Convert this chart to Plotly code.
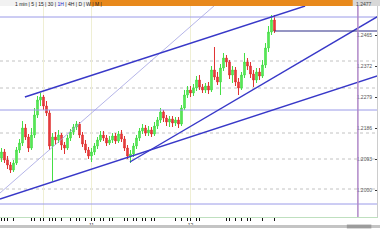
import plotly.graph_objects as go

# ---- data (bar index, prices) ----
bar_index = list(range(92))
open_ = [1.2096, 1.2114, 1.2090, 1.2075, 1.2060, 1.2081, 1.2120, 1.2141, 1.2186, 1.2159,
         1.2126, 1.2165, 1.2225, 1.2270, 1.2279, 1.2252, 1.2231, 1.2132, 1.2159, 1.2150,
         1.2165, 1.2135, 1.2126, 1.2156, 1.2174, 1.2189, 1.2198, 1.2165, 1.2138, 1.2120,
         1.2102, 1.2114, 1.2132, 1.2150, 1.2165, 1.2156, 1.2141, 1.2150, 1.2162, 1.2147,
         1.2168, 1.2153, 1.2126, 1.2102, 1.2108, 1.2132, 1.2156, 1.2177, 1.2186, 1.2171,
         1.2180, 1.2168, 1.2192, 1.2210, 1.2234, 1.2216, 1.2204, 1.2213, 1.2201, 1.2210,
         1.2198, 1.2246, 1.2285, 1.2300, 1.2291, 1.2306, 1.2330, 1.2309, 1.2300, 1.2312,
         1.2300, 1.2360, 1.2339, 1.2324, 1.2366, 1.2396, 1.2384, 1.2345, 1.2360, 1.2324,
         1.2306, 1.2345, 1.2384, 1.2372, 1.2348, 1.2330, 1.2354, 1.2342, 1.2375, 1.2426,
         1.2474, 1.2510]
high = [1.2126, 1.2123, 1.2102, 1.2084, 1.2090, 1.2129, 1.2153, 1.2207, 1.2198, 1.2168,
        1.2186, 1.2246, 1.2282, 1.2291, 1.2285, 1.2267, 1.2240, 1.2171, 1.2174, 1.2180,
        1.2171, 1.2144, 1.2165, 1.2183, 1.2198, 1.2207, 1.2204, 1.2174, 1.2150, 1.2129,
        1.2126, 1.2141, 1.2159, 1.2177, 1.2177, 1.2165, 1.2162, 1.2171, 1.2171, 1.2177,
        1.2180, 1.2162, 1.2135, 1.2120, 1.2141, 1.2165, 1.2186, 1.2198, 1.2195, 1.2192,
        1.2189, 1.2204, 1.2219, 1.2246, 1.2240, 1.2225, 1.2222, 1.2222, 1.2219, 1.2219,
        1.2255, 1.2300, 1.2312, 1.2312, 1.2318, 1.2342, 1.2345, 1.2318, 1.2321, 1.2324,
        1.2372, 1.2429, 1.2354, 1.2378, 1.2411, 1.2405, 1.2390, 1.2372, 1.2369, 1.2336,
        1.2354, 1.2411, 1.2396, 1.2384, 1.2360, 1.2366, 1.2366, 1.2390, 1.2441, 1.2492,
        1.2525, 1.2525]
low = [1.2084, 1.2081, 1.2063, 1.2051, 1.2054, 1.2075, 1.2111, 1.2132, 1.2150, 1.2114,
       1.2120, 1.2156, 1.2216, 1.2252, 1.2240, 1.2222, 1.2120, 1.2027, 1.2135, 1.2141,
       1.2120, 1.2108, 1.2120, 1.2147, 1.2165, 1.2180, 1.2156, 1.2129, 1.2111, 1.2093,
       1.2084, 1.2105, 1.2123, 1.2144, 1.2147, 1.2132, 1.2135, 1.2141, 1.2138, 1.2141,
       1.2144, 1.2117, 1.2093, 1.2081, 1.2099, 1.2123, 1.2147, 1.2168, 1.2162, 1.2162,
       1.2159, 1.2162, 1.2183, 1.2201, 1.2204, 1.2192, 1.2189, 1.2189, 1.2192, 1.2186,
       1.2192, 1.2240, 1.2276, 1.2279, 1.2282, 1.2297, 1.2300, 1.2291, 1.2291, 1.2288,
       1.2294, 1.2330, 1.2315, 1.2285, 1.2357, 1.2369, 1.2333, 1.2321, 1.2312, 1.2285,
       1.2300, 1.2336, 1.2360, 1.2336, 1.2309, 1.2321, 1.2330, 1.2336, 1.2366, 1.2414,
       1.2465, 1.2471]
close = [1.2114, 1.2090, 1.2075, 1.2060, 1.2081, 1.2120, 1.2141, 1.2186, 1.2159, 1.2126,
         1.2165, 1.2225, 1.2270, 1.2279, 1.2252, 1.2231, 1.2132, 1.2159, 1.2150, 1.2165,
         1.2135, 1.2126, 1.2156, 1.2174, 1.2189, 1.2198, 1.2165, 1.2138, 1.2120, 1.2102,
         1.2114, 1.2132, 1.2150, 1.2165, 1.2156, 1.2141, 1.2150, 1.2162, 1.2147, 1.2168,
         1.2153, 1.2126, 1.2102, 1.2108, 1.2132, 1.2156, 1.2177, 1.2186, 1.2171, 1.2180,
         1.2168, 1.2192, 1.2210, 1.2234, 1.2216, 1.2204, 1.2213, 1.2201, 1.2210, 1.2198,
         1.2246, 1.2285, 1.2300, 1.2291, 1.2306, 1.2330, 1.2309, 1.2300, 1.2312, 1.2300,
         1.2360, 1.2339, 1.2324, 1.2366, 1.2396, 1.2384, 1.2345, 1.2360, 1.2324, 1.2306,
         1.2345, 1.2384, 1.2372, 1.2348, 1.2330, 1.2354, 1.2342, 1.2375, 1.2426, 1.2474,
         1.2510, 1.2477]

# trend lines: (x0, y0, x1, y1) in bar index / price
trend_main = [[7.8, 1.2279, 101.2, 1.2552],     # upper channel
              [-0.5, 1.1973, 126.2, 1.2345],    # long lower support
              [42.8, 1.2084, 126.2, 1.2525]]    # steeper support
trend_thin = [-0.5, 1.1991, 71.2, 1.2555]
last_close_line = [91, 1.2477, 126.2]
level_solid = [1.2519, 1.2240, 1.1958]
level_dotted = [1.2387, 1.2306, 1.2171, 1.2093, 1.2003]
time_grid = [14, 30, 63]
marker_bar = 118.8

x_tickvals = [0, 1, 2, 4, 10, 11, 13, 14, 16, 17, 18, 20, 23, 25, 26, 28, 30, 31, 33, 34, 36, 37,
              41, 42, 44, 45, 47, 48, 50, 51, 58, 60, 62, 63, 65, 66, 75, 76, 78, 80, 82, 83, 87, 91]
x_ticktext = ["" for _ in x_tickvals]
x_ticktext[x_tickvals.index(30)] = "11"
x_ticktext[x_tickvals.index(63)] = "12"

toolbar_text = "1 min | 5 | 15 | 30 | <span style='color:#2222cc'>1H</span> | 4H | D | W | M |"
price_box_text = "1.2477"

fig = go.Figure()
fig.add_trace(go.Candlestick(
    x=bar_index, open=open_, high=high, low=low, close=close,
    increasing=dict(line=dict(color="#44de44", width=1), fillcolor="#66ec66"),
    decreasing=dict(line=dict(color="#e03232", width=1), fillcolor="#ea4444"),
    whiskerwidth=0, showlegend=False, hoverinfo="skip"))

shapes = []
for yv in level_dotted:
    shapes.append(dict(type="line", xref="paper", x0=0, x1=1, yref="y", y0=yv, y1=yv,
                       line=dict(color="#c2c2c2", width=1, dash="dot"), layer="below"))
for xv in time_grid:
    shapes.append(dict(type="line", xref="x", x0=xv, x1=xv, yref="paper", y0=0, y1=1,
                       line=dict(color="#efefd4", width=1), layer="below"))
for yv in level_solid:
    shapes.append(dict(type="line", xref="paper", x0=0, x1=1, yref="y", y0=yv, y1=yv,
                       line=dict(color="#9a9ae8", width=1)))
shapes.append(dict(type="line", xref="x", yref="y", x0=trend_thin[0], y0=trend_thin[1],
                   x1=trend_thin[2], y1=trend_thin[3], line=dict(color="#a2a2e2", width=0.8)))
for t in trend_main:
    shapes.append(dict(type="line", xref="x", yref="y", x0=t[0], y0=t[1], x1=t[2], y1=t[3],
                       line=dict(color="#3838c8", width=1.4)))
shapes.append(dict(type="line", xref="x", yref="y", x0=last_close_line[0], y0=last_close_line[1],
                   x1=last_close_line[2], y1=last_close_line[1], line=dict(color="#2c2c88", width=1.2)))
shapes.append(dict(type="line", xref="x", x0=marker_bar, x1=marker_bar, yref="paper", y0=0, y1=1,
                   line=dict(color="#b088c8", width=1.5)))

# toolbar and scrollbar
top0, top1 = 1.0, 1.03
shapes += [
    dict(type="rect", xref="paper", yref="paper", x0=0, x1=0.239, y0=top0, y1=top1,
         fillcolor="#f2f2f2", line=dict(width=0)),
    dict(type="rect", xref="paper", yref="paper", x0=0.239, x1=0.936, y0=top0, y1=top1,
         fillcolor="#e8891c", line=dict(width=0)),
    dict(type="rect", xref="paper", yref="paper", x0=0.936, x1=1.01, y0=top0, y1=top1,
         fillcolor="#d8d8d8", line=dict(width=0)),
    dict(type="rect", xref="paper", yref="paper", x0=0, x1=1.01, y0=-0.052, y1=-0.038,
         fillcolor="#c4c4c4", line=dict(width=0)),
    dict(type="rect", xref="paper", yref="paper", x0=0.92, x1=0.985, y0=-0.054, y1=-0.036,
         fillcolor="#9c9c9c", line=dict(width=0)),
]

annotations = [
    dict(xref="paper", yref="paper", x=0.035, y=1.031, xanchor="left", yanchor="top",
         text=toolbar_text, showarrow=False,
         font=dict(size=5, color="#222", family="Liberation Sans")),
    dict(xref="paper", yref="paper", x=0.94, y=1.031, xanchor="left", yanchor="top",
         text=price_box_text, showarrow=False,
         font=dict(size=5, color="#444", family="Liberation Sans")),
]

fig.update_layout(
    width=380, height=240, margin=dict(l=0, r=3, t=6, b=23),
    paper_bgcolor="white", plot_bgcolor="white",
    shapes=shapes, annotations=annotations, hovermode=False, showlegend=False,
    xaxis=dict(range=[-0.5, 125.17], rangeslider=dict(visible=False), showgrid=False,
               zeroline=False, showline=True, linecolor="#bfe0bf", linewidth=1,
               tickmode="array", tickvals=x_tickvals, ticktext=x_ticktext,
               ticks="outside", ticklen=3, tickcolor="#111", tickwidth=1,
               tickfont=dict(size=5, color="#333", family="Liberation Sans"), automargin=False),
    yaxis=dict(range=[1.1919, 1.2552], side="right", showgrid=False, zeroline=False,
               showline=True, linecolor="#cccccc", linewidth=1,
               tick0=1.2, dtick=0.0093, tickformat=".4f", ticks="inside", ticklen=2,
               ticklabelposition="inside", ticklabelstandoff=1,
               tickcolor="#333", tickfont=dict(size=5, color="#555", family="Liberation Sans"),
               automargin=False),
)

fig.write_html("out.html", config=dict(displayModeBar=False))
